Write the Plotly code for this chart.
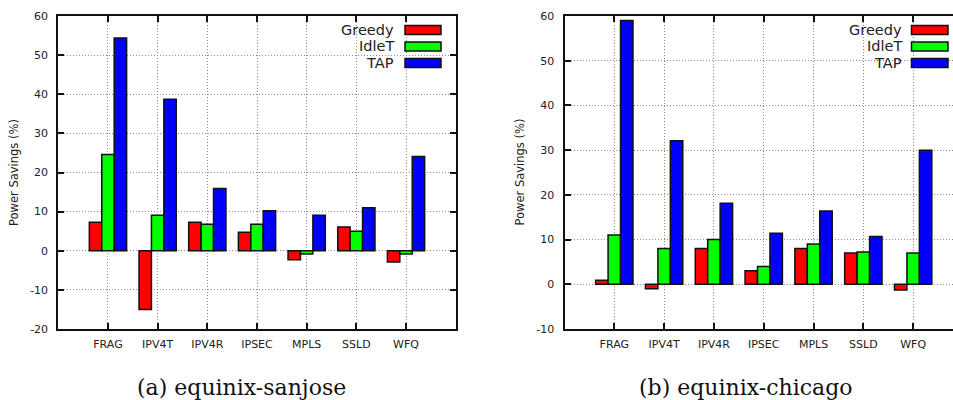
import plotly.graph_objects as go

# Benchmarks on the x axis
categories = ["FRAG", "IPV4T", "IPV4R", "IPSEC", "MPLS", "SSLD", "WFQ"]
series_names = ["Greedy", "IdleT", "TAP"]
series_colors = ["#ff0000", "#00ff00", "#0000ff"]

# Power savings (%) for equinix-sanjose
sanjose_greedy = [7.3, -15.0, 7.3, 4.7, -2.3, 6.1, -2.9]
sanjose_idlet = [24.6, 9.1, 6.8, 6.8, -0.8, 5.0, -0.8]
sanjose_tap = [54.4, 38.7, 15.9, 10.2, 9.1, 11.0, 24.1]

# Power savings (%) for equinix-chicago
chicago_greedy = [0.9, -1.0, 8.0, 3.0, 8.0, 7.0, -1.3]
chicago_idlet = [11.0, 8.0, 10.0, 4.0, 9.0, 7.2, 7.0]
chicago_tap = [59.0, 32.1, 18.1, 11.4, 16.4, 10.7, 30.0]

left_yticks = [-20, -10, 0, 10, 20, 30, 40, 50, 60]
right_yticks = [-10, 0, 10, 20, 30, 40, 50, 60]
left_yticklabels = [str(v) for v in left_yticks]
right_yticklabels = [str(v) for v in right_yticks]

W, H = 953, 400
TICK_FONT = dict(family="DejaVu Sans", size=11, color="#222222")
GRID_DASH = "1px,2px"

fig = go.Figure()

panels = [
    ("x", "y", [sanjose_greedy, sanjose_idlet, sanjose_tap]),
    ("x2", "y2", [chicago_greedy, chicago_idlet, chicago_tap]),
]
for xa, ya, vals in panels:
    for name, color, v in zip(series_names, series_colors, vals):
        fig.add_trace(go.Bar(
            x=categories, y=v, name=name, xaxis=xa, yaxis=ya,
            marker=dict(color=color, line=dict(color="#111111", width=1.5)),
            offsetgroup=name, showlegend=False,
        ))


def px_x(p):
    return p / W


def px_y(p):
    return 1 - p / H


ydom = [px_y(329), px_y(16)]

common_x = dict(
    type="category", showline=True, linecolor="#111111", linewidth=2,
    mirror="allticks", ticks="inside", ticklen=6, tickwidth=1.5,
    tickcolor="#111111", showgrid=True, gridcolor="#8a8a8a",
    griddash=GRID_DASH, gridwidth=1, tickfont=TICK_FONT, zeroline=False,
    fixedrange=True, ticklabelstandoff=4, automargin=False,
)
common_y = dict(
    showline=True, linecolor="#111111", linewidth=2, ticks="inside",
    ticklen=6, tickwidth=1.5, tickcolor="#111111", showgrid=True,
    gridcolor="#8a8a8a", griddash=GRID_DASH, gridwidth=1, tickfont=TICK_FONT,
    zeroline=False, fixedrange=True, ticklabelstandoff=6, automargin=False,
    tickmode="array",
)

fig.update_layout(
    width=W, height=H,
    margin=dict(l=0, r=0, t=0, b=0, autoexpand=False),
    paper_bgcolor="white", plot_bgcolor="white",
    barmode="group", bargap=0.25, bargroupgap=0,
    showlegend=False,
    xaxis=dict(common_x, domain=[px_x(58.3), px_x(455.7)], range=[-1, 7],
               anchor="y"),
    yaxis=dict(common_y, domain=ydom, range=[-20, 60], tickvals=left_yticks,
               ticktext=left_yticklabels, mirror="allticks", anchor="x"),
    xaxis2=dict(common_x, domain=[px_x(564.5), 1.0], range=[-1, 6.8],
                anchor="y2"),
    yaxis2=dict(common_y, domain=ydom, range=[-10, 60], tickvals=right_yticks,
                ticktext=right_yticklabels, mirror=False, anchor="x2"),
)

shapes = []
annotations = []

# Key boxes (text right-aligned, colour swatch on the right)
key_specs = [
    dict(bg=(354, 455), text_right=396, sw=(405, 441)),
    dict(bg=(859, 953), text_right=904, sw=(911.5, 948)),
]
row_centers = [30, 46.5, 63]
for spec in key_specs:
    shapes.append(dict(
        type="rect", xref="paper", yref="paper", layer="between",
        x0=px_x(spec["bg"][0]), x1=px_x(spec["bg"][1]),
        y0=px_y(73), y1=px_y(17), fillcolor="white", line=dict(width=0),
    ))
    for name, color, cy in zip(series_names, series_colors, row_centers):
        shapes.append(dict(
            type="rect", xref="paper", yref="paper", layer="above",
            x0=px_x(spec["sw"][0]), x1=px_x(spec["sw"][1]),
            y0=px_y(cy + 4.5), y1=px_y(cy - 4.5),
            fillcolor=color, line=dict(color="#111111", width=1.5),
        ))
        annotations.append(dict(
            text=name, xref="paper", yref="paper",
            x=px_x(spec["text_right"]), y=px_y(cy),
            xanchor="right", yanchor="middle", showarrow=False,
            font=dict(family="DejaVu Sans", size=14.5, color="#222222"),
        ))

# Y axis titles
for xc in (13.5, 519):
    annotations.append(dict(
        text="Power Savings (%)", xref="paper", yref="paper",
        x=px_x(xc), y=px_y(172.5), textangle=-90,
        xanchor="center", yanchor="middle", showarrow=False,
        font=dict(family="DejaVu Sans", size=11.5, color="#222222"),
    ))

# Sub-figure captions
for text, xc in (("(a) equinix-sanjose", 241), ("(b) equinix-chicago", 746)):
    annotations.append(dict(
        text=text, xref="paper", yref="paper",
        x=px_x(xc), y=px_y(387), xanchor="center", yanchor="middle",
        showarrow=False,
        font=dict(family="DejaVu Serif", size=22, color="#111111"),
    ))

fig.update_layout(shapes=shapes, annotations=annotations)

fig.write_html("out.html", config=dict(displayModeBar=False))
